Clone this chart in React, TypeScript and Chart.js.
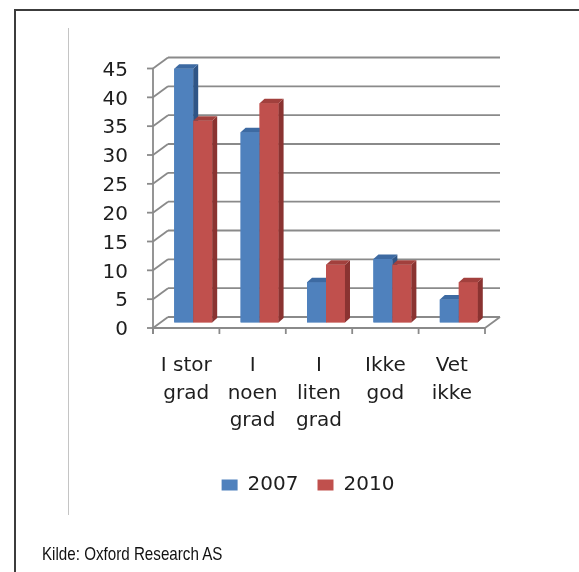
import React, { useEffect, useRef } from "react";
import { Chart, registerables } from "chart.js";

Chart.register(...registerables);

// Survey answers, share of respondents (%)
const CATEGORIES: string[][] = [
  ["I stor", "grad"],
  ["I", "noen", "grad"],
  ["I", "liten", "grad"],
  ["Ikke", "god"],
  ["Vet", "ikke"],
];
const SERIES_NAMES = ["2007", "2010"];
const VALUES_2007 = [44, 33, 7, 11, 4];
const VALUES_2010 = [35, 38, 10, 10, 7];
const Y_MIN = 0;
const Y_MAX = 45;
const Y_STEP = 5;
const SOURCE_NOTE = "Kilde: Oxford Research AS";

// Styling
const FONT = "'DejaVu Sans', 'Noto Sans', sans-serif";
const TEXT = "#1e1e1e";
const GRID = "#8a8a8a";
const PALETTE = [
  { front: "#4F81BD", side: "#2F5586", top: "#3D6AA2" },
  { front: "#C0504D", side: "#8A3331", top: "#A2403D" },
];
// pseudo-3D offsets relative to the bar plane
const FRONT = { dx: -7, dy: 5.5 };
const BACK = { dx: 8, dy: -5.5 };
const BAR_DEPTH = { dx: 5, dy: 4.5 };

const walls3d = {
  id: "walls3d",
  beforeDatasetsDraw(chart: any) {
    const { ctx, chartArea: a, scales } = chart;
    const x = scales.x;
    const y = scales.y;
    const seg = (x1: number, y1: number, x2: number, y2: number) => {
      ctx.beginPath();
      ctx.moveTo(x1, y1);
      ctx.lineTo(x2, y2);
      ctx.stroke();
    };
    ctx.save();
    ctx.strokeStyle = GRID;
    ctx.lineWidth = 1.8;
    y.ticks.forEach((t: any) => {
      const py = y.getPixelForValue(t.value);
      // back wall line
      seg(a.left + BACK.dx, py + BACK.dy, a.right + BACK.dx, py + BACK.dy);
      // side wall diagonal
      seg(a.left + FRONT.dx, py + FRONT.dy, a.left + BACK.dx, py + BACK.dy);
      // tick mark
      seg(a.left + FRONT.dx - 6, py + FRONT.dy, a.left + FRONT.dx, py + FRONT.dy);
    });
    const y0 = y.getPixelForValue(Y_MIN);
    const yTop = y.getPixelForValue(Y_MAX);
    // vertical axis at the front
    seg(a.left + FRONT.dx, yTop + FRONT.dy, a.left + FRONT.dx, y0 + FRONT.dy + 6);
    // floor edges
    seg(a.left + FRONT.dx, y0 + FRONT.dy, a.right + FRONT.dx, y0 + FRONT.dy);
    seg(a.right + FRONT.dx, y0 + FRONT.dy, a.right + BACK.dx, y0 + BACK.dy);
    // category boundary ticks
    for (let i = 0; i <= CATEGORIES.length; i++) {
      const px = x.getPixelForValue(i - 0.5) + FRONT.dx;
      seg(px, y0 + FRONT.dy, px, y0 + FRONT.dy + 6);
    }
    ctx.restore();
  },
  afterDatasetsDraw(chart: any) {
    const { ctx } = chart;
    const poly = (pts: number[][], fill: string) => {
      ctx.beginPath();
      ctx.moveTo(pts[0][0], pts[0][1]);
      for (let i = 1; i < pts.length; i++) ctx.lineTo(pts[i][0], pts[i][1]);
      ctx.closePath();
      ctx.fillStyle = fill;
      ctx.fill();
    };
    ctx.save();
    chart.data.datasets.forEach((_ds: any, di: number) => {
      const meta = chart.getDatasetMeta(di);
      const pal = PALETTE[di];
      meta.data.forEach((bar: any) => {
        const { x, y, base, width } = bar.getProps(["x", "y", "base", "width"], true);
        const l = x - width / 2;
        const r = x + width / 2;
        const d = BAR_DEPTH.dx;
        const h = BAR_DEPTH.dy;
        // redraw the front so each series' side face sits behind the next bar
        bar.draw(ctx);
        poly([[r, y], [r + d, y - h], [r + d, base - h], [r, base]], pal.side);
        poly([[l, y], [l + d, y - h], [r + d, y - h], [r, y]], pal.top);
      });
    });
    ctx.restore();
  },
};

function BarChart3D() {
  const ref = useRef<HTMLCanvasElement | null>(null);
  useEffect(() => {
    if (!ref.current) return;
    const chart = new Chart(ref.current, {
      type: "bar",
      data: {
        labels: CATEGORIES,
        datasets: [
          { label: SERIES_NAMES[0], data: VALUES_2007, backgroundColor: PALETTE[0].front, borderWidth: 0 },
          { label: SERIES_NAMES[1], data: VALUES_2010, backgroundColor: PALETTE[1].front, borderWidth: 0 },
        ],
      },
      options: {
        animation: false,
        responsive: false,
        devicePixelRatio: 1,
        layout: { padding: { left: 84, right: 47, top: 63, bottom: 67 } },
        datasets: { bar: { categoryPercentage: 0.572, barPercentage: 1 } },
        plugins: {
          legend: {
            position: "bottom",
            labels: {
              boxWidth: 16,
              boxHeight: 11,
              padding: 19,
              color: TEXT,
              font: { family: FONT, size: 20 },
            },
          },
          tooltip: { enabled: false },
        },
        scales: {
          x: {
            grid: { display: false },
            border: { display: false },
            ticks: {
              autoSkip: false,
              maxRotation: 0,
              labelOffset: FRONT.dx,
              padding: 22,
              color: TEXT,
              font: { family: FONT, size: 20, lineHeight: 1.375 },
            },
            afterFit: (s: any) => {
              s.height = 133.5;
            },
          },
          y: {
            min: Y_MIN,
            max: Y_MAX,
            grid: { display: false },
            border: { display: false },
            ticks: {
              stepSize: Y_STEP,
              padding: 24,
              labelOffset: 7.5,
              color: TEXT,
              font: { family: FONT, size: 20 },
            },
            afterFit: (s: any) => {
              s.width = 76;
            },
          },
          // empty right-hand gutter that keeps the legend centred under the wall
          gutter: {
            type: "linear",
            position: "right",
            display: true,
            grid: { display: false },
            border: { display: false },
            ticks: { display: false },
            afterFit: (s: any) => {
              s.width = 40;
            },
          },
        },
      } as any,
      plugins: [walls3d],
    });
    return () => chart.destroy();
  }, []);
  return (
    <canvas
      ref={ref}
      width={579}
      height={572}
      style={{ position: "absolute", left: 0, top: 0, width: 579, height: 572 }}
    />
  );
}

export default function App() {
  return (
    <div style={{ position: "absolute", left: 0, top: 0, width: 579, height: 572, overflow: "hidden", background: "#fff" }}>
      <div
        style={{
          position: "absolute",
          left: 14,
          top: 9,
          width: 640,
          height: 640,
          border: "2px solid #3c3c3c",
          boxSizing: "border-box",
        }}
      />
      <div style={{ position: "absolute", left: 68, top: 28, width: 1, height: 487, background: "#c4c4c4" }} />
      <BarChart3D />
      <div
        style={{
          position: "absolute",
          left: 42,
          top: 545,
          fontFamily: "'Liberation Sans Narrow', 'Arial Narrow', 'Liberation Sans', sans-serif",
          fontSize: 18.5,
          lineHeight: 1,
          color: "#111",
          whiteSpace: "nowrap",
          transform: "scaleX(0.82)",
          transformOrigin: "0 0",
        }}
      >
        {SOURCE_NOTE}
      </div>
    </div>
  );
}
